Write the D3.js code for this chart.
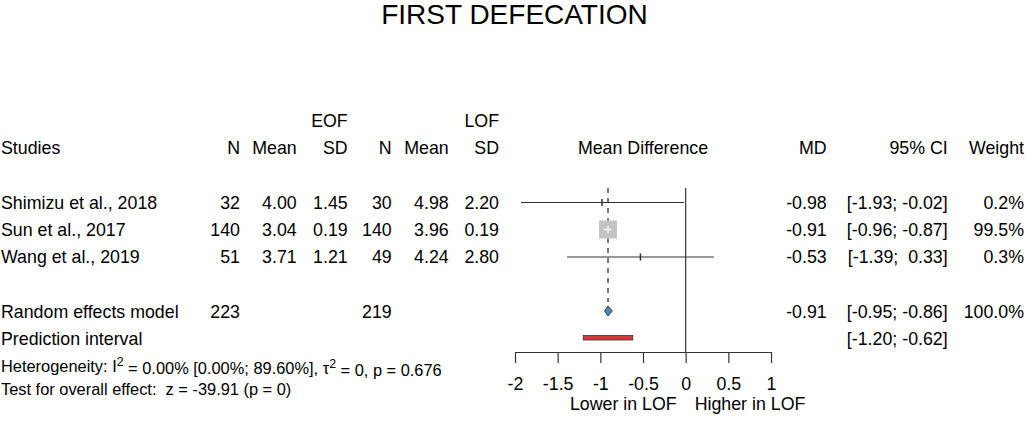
<!DOCTYPE html>
<html><head><meta charset="utf-8">
<script src="https://cdn.jsdelivr.net/npm/d3@7"></script>
<style>
body{margin:0;background:#fff;}
svg text{font-family:"Liberation Sans",Arial,Helvetica,sans-serif;white-space:pre;fill:#000;}
</style></head>
<body><svg id="c" width="1026" height="428"></svg>
<script>
const studies = ["Shimizu et al., 2018","Sun et al., 2017","Wang et al., 2019"];
const nE = [32,140,51];
const meanE = ["4.00","3.04","3.71"];
const sdE = ["1.45","0.19","1.21"];
const nL = [30,140,49];
const meanL = ["4.98","3.96","4.24"];
const sdL = ["2.20","0.19","2.80"];
const md = [-0.98,-0.91,-0.53];
const lower = [-1.93,-0.96,-1.39];
const upper = [-0.02,-0.87,0.33];
const weight = [0.2,99.5,0.3];
const ciText = ["[-1.93; -0.02]","[-0.96; -0.87]","[-1.39;  0.33]"];
const weightText = ["0.2%","99.5%","0.3%"];
const pooled = {md:-0.91, lower:-0.95, upper:-0.86, nE:223, nL:219, ci:"[-0.95; -0.86]", w:"100.0%"};
const pred = {lower:-1.20, upper:-0.62, ci:"[-1.20; -0.62]"};
const ticks = [-2,-1.5,-1,-0.5,0,0.5,1];

const svg = d3.select("#c");
const FS = 17.8, FS2 = 16.4;
const x = d3.scaleLinear().domain([-2,1]).range([515,771]);
const rowY = [202.5,229.5,257];
const yPool = 311.5, yPred = 338.5, yHead = 148, yTop = 120.5, yHet = 366, yTest = 389.5;

function txt(xp, yp, s, anchor, fs){
  return svg.append("text").attr("x",xp).attr("y",yp).attr("dy","0.35em")
    .attr("text-anchor",anchor||"start").attr("font-size",fs||FS).text(s);
}

// title
svg.append("text").attr("x",514.5).attr("y",23.5).attr("text-anchor","middle")
  .attr("font-size",28).text("FIRST DEFECATION");

// headers
txt(347.7,yTop,"EOF","end"); txt(499,yTop,"LOF","end");
txt(1,yHead,"Studies");
txt(240,yHead,"N","end"); txt(296.7,yHead,"Mean","end"); txt(347.7,yHead,"SD","end");
txt(391.7,yHead,"N","end"); txt(448.7,yHead,"Mean","end"); txt(499,yHead,"SD","end");
txt(643,yHead,"Mean Difference","middle");
txt(826.7,yHead,"MD","end"); txt(947.7,yHead,"95% CI","end"); txt(1024,yHead,"Weight","end");

// rows
studies.forEach((s,i)=>{
  const y=rowY[i];
  txt(1,y,s);
  txt(240,y,String(nE[i]),"end"); txt(296.7,y,meanE[i],"end"); txt(347.7,y,sdE[i],"end");
  txt(391.7,y,String(nL[i]),"end"); txt(448.7,y,meanL[i],"end"); txt(499,y,sdL[i],"end");
  txt(826.7,y,md[i].toFixed(2),"end"); txt(947.7,y,ciText[i],"end"); txt(1024,y,weightText[i],"end");
});
txt(1,yPool,"Random effects model");
txt(240,yPool,String(pooled.nE),"end"); txt(391.7,yPool,String(pooled.nL),"end");
txt(826.7,yPool,pooled.md.toFixed(2),"end"); txt(947.7,yPool,pooled.ci,"end"); txt(1024,yPool,pooled.w,"end");
txt(1,yPred,"Prediction interval");
txt(947.7,yPred,pred.ci,"end");

// heterogeneity
const het = svg.append("text").attr("x",1).attr("y",yHet).attr("dy","0.35em").attr("font-size",FS2);
het.append("tspan").text("Heterogeneity: I");
het.append("tspan").attr("dy","-0.5em").attr("font-size",FS2*0.75).text("2");
het.append("tspan").attr("dy","0.5em").text(" = 0.00% [0.00%; 89.60%], \u03C4");
het.append("tspan").attr("dy","-0.5em").attr("font-size",FS2*0.75).text("2");
het.append("tspan").attr("dy","0.5em").text(" = 0, p = 0.676");
txt(1,yTest,"Test for overall effect:  z = -39.91 (p = 0)","start",FS2);

// zero line
svg.append("line").attr("x1",x(0)).attr("x2",x(0)).attr("y1",188).attr("y2",352)
  .attr("stroke","#333").attr("stroke-width",1.2);
// dashed pooled line
svg.append("line").attr("x1",x(pooled.md)).attr("x2",x(pooled.md)).attr("y1",188).attr("y2",302)
  .attr("stroke","#333").attr("stroke-width",1.3).attr("stroke-dasharray","5,5");

// study CIs
const maxW = d3.max(weight);
studies.forEach((s,i)=>{
  const y=rowY[i];
  const big = weight[i] > 10;
  if(big){
    const side = 18*Math.sqrt(weight[i]/maxW);
    svg.append("rect").attr("x",x(md[i])-side/2).attr("y",y-side/2)
      .attr("width",side).attr("height",side).attr("fill","#c4c4c4");
    svg.append("line").attr("x1",x(lower[i])).attr("x2",x(upper[i])).attr("y1",y).attr("y2",y)
      .attr("stroke","#fff").attr("stroke-width",1.2);
    svg.append("line").attr("x1",x(md[i])).attr("x2",x(md[i])).attr("y1",y-3.5).attr("y2",y+3.5)
      .attr("stroke","#fff").attr("stroke-width",1.2);
  } else {
    svg.append("line").attr("x1",x(lower[i])).attr("x2",x(upper[i])).attr("y1",y).attr("y2",y)
      .attr("stroke","#333").attr("stroke-width",1.2);
    svg.append("line").attr("x1",x(md[i])).attr("x2",x(md[i])).attr("y1",y-3.5).attr("y2",y+3.5)
      .attr("stroke","#333").attr("stroke-width",1.5);
  }
});

// diamond
const dh = 5;
svg.append("path").attr("d",
  `M${x(pooled.lower)},${yPool-0.5} L${x(pooled.md)},${yPool-0.5-dh} L${x(pooled.upper)},${yPool-0.5} L${x(pooled.md)},${yPool-0.5+dh} Z`)
  .attr("fill","#4f86b8").attr("stroke","#222").attr("stroke-width",0.8);

// prediction interval
svg.append("rect").attr("x",x(pred.lower)).attr("y",yPred-3).attr("width",x(pred.upper)-x(pred.lower))
  .attr("height",4.5).attr("fill","#d33b3b").attr("stroke","#333").attr("stroke-width",0.8);

// axis
const axis = d3.axisBottom(x).tickValues(ticks).tickSize(11).tickPadding(14)
  .tickFormat(d=>String(d)).tickSizeOuter(0);
const ag = svg.append("g").attr("transform","translate(0,352)").call(axis);
ag.select(".domain").attr("stroke","#333").attr("stroke-width",1.2);
ag.selectAll(".tick line").attr("stroke","#333").attr("stroke-width",1.2);
ag.selectAll(".tick text").attr("font-size",FS).attr("font-family","Liberation Sans, Arial, sans-serif").attr("fill","#000");

txt(x(0)-9,404,"Lower in LOF","end");
txt(x(0)+9,404,"Higher in LOF","start");
</script></body></html>
